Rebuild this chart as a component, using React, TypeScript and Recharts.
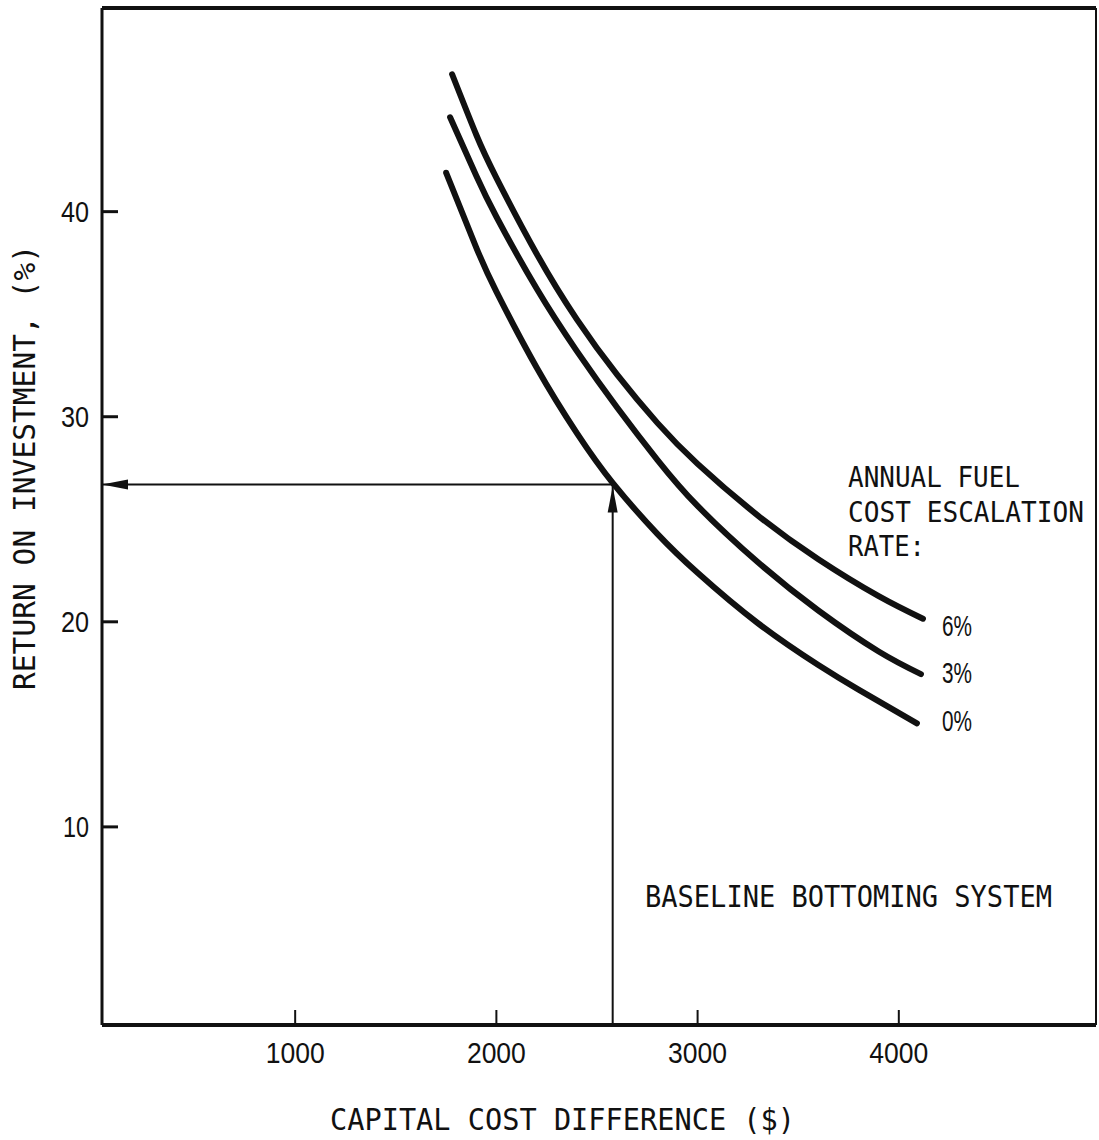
import React from 'react';
import {
  LineChart,
  Line,
  XAxis,
  YAxis,
  ReferenceLine,
  ReferenceDot,
  Customized,
} from 'recharts';

// axis ranges
const costDomain = [40, 4980];
const roiDomain = [0.34, 49.93];
const costTicks = [1000, 2000, 3000, 4000];
const roiTicks = [10, 20, 30, 40];

// annual fuel cost escalation 0%
const cost0 = [1750, 1900, 2000, 2200, 2400, 2580, 2800, 3000, 3300, 3600, 3800, 4090];
const roi0 = [41.9, 38.25, 36.1, 32.4, 29.2, 26.75, 24.29, 22.39, 19.93, 17.89, 16.69, 15.05];

// 3%
const cost3 = [1770, 1900, 2000, 2200, 2400, 2600, 2800, 3000, 3300, 3600, 3900, 4110];
const roi3 = [44.6, 41.75, 39.75, 36.25, 33.2, 30.45, 27.9, 25.65, 22.9, 20.55, 18.55, 17.45];

// 6%
const cost6 = [1780, 1900, 2000, 2200, 2400, 2600, 2800, 3000, 3300, 3600, 3900, 4120];
const roi6 = [46.7, 43.75, 41.65, 37.95, 34.75, 32.05, 29.7, 27.7, 25.18, 23.05, 21.25, 20.15];

// baseline bottoming system read-off
const baselineCost = 2578;
const baselineRoi = 26.7;

const toRows = (costs: number[], rois: number[]) =>
  costs.map((c, i) => ({ cost: c, roi: rois[i] }));

const WORD_FONT = "'DejaVu Sans Mono', 'Liberation Mono', monospace";
const NUM_FONT = "'Liberation Sans', Arial, sans-serif";
const INK = '#111';
const PLOT_LEFT = 102;
const PLOT_BOTTOM = 1025;

const XTick = (props: any) => {
  const { x, payload } = props;
  return (
    <g>
      <line x1={x} y1={PLOT_BOTTOM} x2={x} y2={PLOT_BOTTOM - 15} stroke={INK} strokeWidth={2} />
      <text x={x} y={1063} textAnchor="middle" fontFamily={NUM_FONT} fontSize={29} fill={INK}
        textLength={59} lengthAdjust="spacingAndGlyphs">
        {payload.value}
      </text>
    </g>
  );
};

const YTick = (props: any) => {
  const { y, payload } = props;
  return (
    <g>
      <line x1={PLOT_LEFT} y1={y} x2={PLOT_LEFT + 16} y2={y} stroke={INK} strokeWidth={3} />
      <text x={89} y={y + 10} textAnchor="end" fontFamily={NUM_FONT} fontSize={29} fill={INK}
        textLength={payload.value < 20 ? 26 : 28} lengthAdjust="spacingAndGlyphs">
        {payload.value}
      </text>
    </g>
  );
};

const LeftArrowHead = (props: any) => {
  const { cx, cy } = props;
  return <polygon points={`${cx},${cy} ${cx + 26},${cy - 5} ${cx + 26},${cy + 5}`} fill={INK} />;
};

const UpArrowHead = (props: any) => {
  const { cx, cy } = props;
  return <polygon points={`${cx},${cy + 2} ${cx - 5},${cy + 28} ${cx + 5},${cy + 28}`} fill={INK} />;
};

const Word = ({ x, y, len, children, ...rest }: any) => (
  <text x={x} y={y} textLength={len} lengthAdjust="spacingAndGlyphs" {...rest}>
    {children}
  </text>
);

const Annotations = () => (
  <g fontFamily={WORD_FONT} fontSize={30} fill={INK}>
    <g fontSize={27.5}>
      <Word x={848} y={487} len={172}>ANNUAL FUEL</Word>
      <Word x={848} y={522} len={236}>COST ESCALATION</Word>
      <Word x={848} y={556} len={77}>RATE:</Word>
    </g>
    <Word x={645} y={907} len={407}>BASELINE BOTTOMING SYSTEM</Word>
    <Word x={330} y={1130} len={465}>CAPITAL COST DIFFERENCE ($)</Word>
    <Word x={35} y={690} len={445} transform="rotate(-90, 35, 690)">
      RETURN ON INVESTMENT, (%)
    </Word>
    <g fontFamily={NUM_FONT} fontSize={29}>
      <Word x={942} y={636} len={30}>6%</Word>
      <Word x={942} y={683} len={30}>3%</Word>
      <Word x={942} y={731} len={30}>0%</Word>
    </g>
  </g>
);

export default function App() {
  return (
    <div style={{ position: 'absolute', left: 0, top: 0, width: 1099, height: 1140, background: '#fff' }}>
      <LineChart width={1099} height={1140} margin={{ top: 8, right: 3, bottom: 0, left: 0 }}>
        <XAxis
          type="number"
          dataKey="cost"
          domain={costDomain}
          ticks={costTicks}
          allowDataOverflow
          height={115}
          axisLine={{ stroke: INK, strokeWidth: 4 }}
          tickLine={false}
          tick={XTick}
        />
        <YAxis
          type="number"
          dataKey="roi"
          domain={roiDomain}
          ticks={roiTicks}
          allowDataOverflow
          width={102}
          axisLine={{ stroke: INK, strokeWidth: 3 }}
          tickLine={false}
          tick={YTick}
        />
        <ReferenceLine y={roiDomain[1]} stroke={INK} strokeWidth={4} />
        <ReferenceLine x={costDomain[1]} stroke={INK} strokeWidth={2} />

        <ReferenceLine
          segment={[{ x: costDomain[0], y: baselineRoi }, { x: baselineCost, y: baselineRoi }]}
          stroke={INK}
          strokeWidth={2}
        />
        <ReferenceLine
          segment={[{ x: baselineCost, y: roiDomain[0] }, { x: baselineCost, y: baselineRoi }]}
          stroke={INK}
          strokeWidth={2}
        />
        <ReferenceDot x={costDomain[0]} y={baselineRoi} shape={LeftArrowHead} />
        <ReferenceDot x={baselineCost} y={baselineRoi} shape={UpArrowHead} />

        <Line data={toRows(cost6, roi6)} dataKey="roi" type="natural" stroke={INK} strokeWidth={6}
          strokeLinecap="round" dot={false} isAnimationActive={false} />
        <Line data={toRows(cost3, roi3)} dataKey="roi" type="natural" stroke={INK} strokeWidth={6}
          strokeLinecap="round" dot={false} isAnimationActive={false} />
        <Line data={toRows(cost0, roi0)} dataKey="roi" type="natural" stroke={INK} strokeWidth={6}
          strokeLinecap="round" dot={false} isAnimationActive={false} />

        <Customized component={Annotations} />
      </LineChart>
    </div>
  );
}
